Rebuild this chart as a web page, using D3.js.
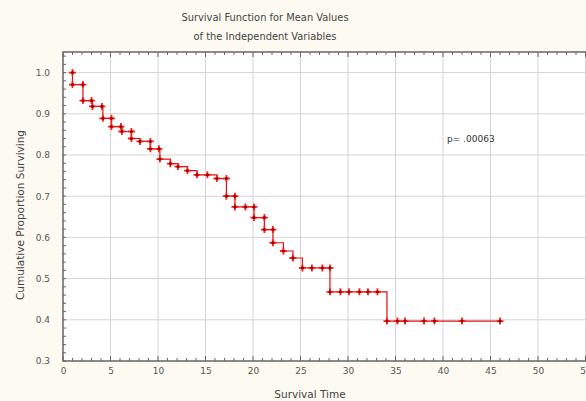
<!DOCTYPE html>
<html><head><meta charset="utf-8">
<script src="https://cdn.jsdelivr.net/npm/d3@7"></script>
<style>body{margin:0;background:#fdfaf2;}svg{display:block;font-family:"DejaVu Sans",Verdana,sans-serif;}</style>
</head><body>
<svg id="c" width="586" height="401"></svg>
<script>
const times = [1,1,2.1,2.1,3,3.1,4.1,4.2,5.1,5.1,6.1,6.2,7.2,7.2,8.1,9.2,9.2,10.1,10.2,11.3,12.1,13.1,14.1,15.2,16.2,17.2,17.2,18.1,18.1,19.2,20.1,20.1,21.2,21.2,22.1,22.1,23.2,24.2,25.2,26.2,27.3,28.1,28.1,29.2,30.1,31.2,32.1,33.1,34.1,35.2,36,38,39.1,42,46];
const surv = [1.0,0.971,0.971,0.932,0.932,0.918,0.918,0.889,0.889,0.869,0.869,0.857,0.857,0.840,0.833,0.833,0.815,0.815,0.790,0.779,0.772,0.762,0.752,0.752,0.743,0.743,0.700,0.700,0.674,0.674,0.674,0.648,0.648,0.619,0.619,0.587,0.567,0.550,0.526,0.526,0.526,0.526,0.468,0.468,0.468,0.468,0.468,0.468,0.397,0.397,0.397,0.397,0.397,0.397,0.397];
const xTicks = [0,5,10,15,20,25,30,35,40,45,50,55];
const yTicks = [0.3,0.4,0.5,0.6,0.7,0.8,0.9,1.0];
const titleLines = ["Survival Function for Mean Values","of the Independent Variables"];
const xLabel = "Survival Time";
const yLabel = "Cumulative Proportion Surviving";
const pText = "p= .00063";

const svg = d3.select("#c");
const L=63, R=585.5, T=52, B=361;
const x = d3.scaleLinear().domain([0,55]).range([L,R]);
const y = d3.scaleLinear().domain([0.3,1.05]).range([B,T]);

svg.append("rect").attr("x",L).attr("y",T).attr("width",600-L).attr("height",B-T).attr("fill","#fff");

// grid
const g = svg.append("g");
g.selectAll(".vx").data(xTicks.slice(1)).join("line")
 .attr("x1",d=>x(d)).attr("x2",d=>x(d)).attr("y1",T).attr("y2",B)
 .attr("stroke","#d4d4d4").attr("stroke-width",1);
g.selectAll(".hy").data(yTicks.slice(1)).join("line")
 .attr("y1",d=>y(d)).attr("y2",d=>y(d)).attr("x1",L).attr("x2",600)
 .attr("stroke","#d4d4d4").attr("stroke-width",1);

// frame
svg.append("rect").attr("x",L).attr("y",T).attr("width",600-L).attr("height",B-T)
 .attr("fill","none").attr("stroke","#666").attr("stroke-width",1.5);

// minor ticks
const xm = d3.range(0,56,1);
const ym = d3.range(0.3,1.051,0.02);
svg.append("g").selectAll("line").data(xm).join("line")
 .attr("x1",d=>x(d)).attr("x2",d=>x(d)).attr("y1",B).attr("y2",d=>B-(d%5===0?5:3)).attr("stroke","#666");
svg.append("g").selectAll("line").data(xm).join("line")
 .attr("x1",d=>x(d)).attr("x2",d=>x(d)).attr("y1",T).attr("y2",d=>T+(d%5===0?5:3)).attr("stroke","#666");
svg.append("g").selectAll("line").data(ym).join("line")
 .attr("y1",d=>y(d)).attr("y2",d=>y(d)).attr("x1",L).attr("x2",L+3).attr("stroke","#666");

const FF = "DejaVu Sans,Verdana,sans-serif";
// axes labels
const xa = d3.axisBottom(x).tickValues(xTicks).tickSize(0).tickPadding(7).tickFormat(d3.format("d"));
const xg = svg.append("g").attr("transform",`translate(0,${B})`).call(xa);
xg.select(".domain").remove();
xg.selectAll("text").attr("font-size",9).attr("fill","#555").attr("font-family",FF);
const ya = d3.axisLeft(y).tickValues(yTicks).tickSize(0).tickPadding(13).tickFormat(d3.format(".1f"));
const yg = svg.append("g").attr("transform",`translate(${L},0)`).call(ya);
yg.select(".domain").remove();
yg.selectAll("text").attr("font-size",9).attr("fill","#555").attr("font-family",FF);

// titles
svg.selectAll(".tt").data(titleLines).join("text")
 .attr("x",265).attr("y",(d,i)=>21+i*19).attr("text-anchor","middle")
 .attr("font-size",9.9).attr("fill","#444").text(d=>d);
svg.append("text").attr("x",310).attr("y",398).attr("text-anchor","middle").attr("font-size",10.5).attr("fill","#444").text(xLabel);
svg.append("text").attr("transform","translate(24,215) rotate(-90)").attr("text-anchor","middle").attr("font-size",10.5).attr("fill","#444").text(yLabel);
svg.append("text").attr("x",447).attr("y",142).attr("font-size",9).attr("fill","#333").text(pText);

// step line
const pts = times.map((t,i)=>[t,surv[i]]);
svg.append("path").datum(pts)
 .attr("d",d3.line().x(d=>x(d[0])).y(d=>y(d[1])).curve(d3.curveStepAfter))
 .attr("fill","none").attr("stroke","#e01010").attr("stroke-width",1.2);

// markers
const mk = svg.append("g").selectAll("g").data(pts).join("g")
 .attr("transform",d=>`translate(${x(d[0])},${y(d[1])})`);
mk.append("path").attr("d","M-3.5,0H3.5M0,-3.5V3.5").attr("stroke","#ff2020").attr("stroke-width",1.8);
mk.append("circle").attr("r",1.6).attr("fill","#a00000");
</script>
</body></html>
